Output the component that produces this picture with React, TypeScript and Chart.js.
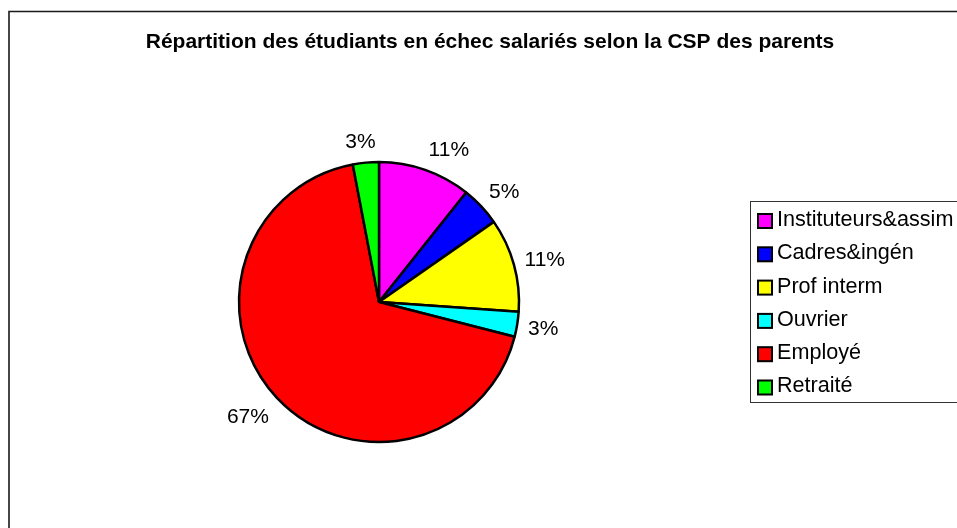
import React, { useEffect, useRef } from "react";
import { Chart, registerables } from "chart.js";

Chart.register(...registerables);

const chartTitle = "Répartition des étudiants en échec salariés selon la CSP des parents";
const categories = ["Instituteurs&assim", "Cadres&ingén", "Prof interm", "Ouvrier", "Employé", "Retraité"];
const shares = [10.7, 4.6, 10.8, 2.9, 68.0, 3.0];
const shareLabels = ["11%", "5%", "11%", "3%", "67%", "3%"];
const sliceColors = ["#FF00FF", "#0000FF", "#FFFF00", "#00FFFF", "#FF0000", "#00FF00"];

const FONT = '"Liberation Sans", Arial, Helvetica, sans-serif';

const decorPlugin = {
  id: "decor",
  beforeDraw(chart: any) {
    const ctx = chart.ctx as CanvasRenderingContext2D;
    const W = chart.width;
    const H = chart.height;
    ctx.save();
    ctx.fillStyle = "#ffffff";
    ctx.fillRect(0, 0, W, H);
    // outer frame (only left and top visible)
    ctx.strokeStyle = "#1a1a1a";
    ctx.lineWidth = 1.6;
    ctx.beginPath();
    ctx.moveTo(9, H + 5);
    ctx.lineTo(9, 11.5);
    ctx.lineTo(W + 5, 11.5);
    ctx.stroke();
    // title
    ctx.fillStyle = "#000";
    ctx.font = `bold 21px ${FONT}`;
    ctx.textAlign = "center";
    ctx.textBaseline = "alphabetic";
    ctx.fillText(chartTitle, 490, 47.5);
    // legend
    ctx.strokeStyle = "#333";
    ctx.lineWidth = 1;
    ctx.strokeRect(750.5, 201.5, 400, 201);
    ctx.font = `21.6px ${FONT}`;
    ctx.textAlign = "left";
    ctx.textBaseline = "middle";
    categories.forEach((name, i) => {
      const y = 220.5 + i * 33.3;
      ctx.fillStyle = sliceColors[i];
      ctx.fillRect(758, y - 6.5, 14, 14);
      ctx.strokeStyle = "#000";
      ctx.lineWidth = 2;
      ctx.strokeRect(758, y - 6.5, 14, 14);
      ctx.fillStyle = "#000";
      ctx.fillText(name, 777, y - 0.5);
    });
    ctx.restore();
  },
  afterDatasetsDraw(chart: any) {
    const ctx = chart.ctx as CanvasRenderingContext2D;
    const meta = chart.getDatasetMeta(0);
    ctx.save();
    ctx.font = `21px ${FONT}`;
    ctx.fillStyle = "#000";
    ctx.textAlign = "center";
    ctx.textBaseline = "middle";
    meta.data.forEach((arc: any, i: number) => {
      const p = arc.getProps(["x", "y", "startAngle", "endAngle", "outerRadius"], true);
      const mid = (p.startAngle + p.endAngle) / 2;
      const ux = Math.cos(mid);
      const uy = Math.sin(mid);
      const dist = p.outerRadius + 11;
      const px = p.x + dist * ux;
      const py = p.y + dist * uy;
      const text = shareLabels[i];
      const w = ctx.measureText(text).width;
      const cx = px + Math.sign(ux) * Math.min(1, 3 * Math.abs(ux)) * (w / 2);
      const cy = py + uy * (uy > 0 ? 16 : 11) + 1;
      ctx.fillText(text, cx, cy);
    });
    ctx.restore();
  },
};

export default function App() {
  const canvasRef = useRef<HTMLCanvasElement | null>(null);

  useEffect(() => {
    if (!canvasRef.current) return;
    const chart = new Chart(canvasRef.current, {
      type: "pie",
      data: {
        labels: categories,
        datasets: [
          {
            data: shares,
            backgroundColor: sliceColors,
            borderColor: "#000",
            borderWidth: 2.5,
          },
        ],
      },
      options: {
        responsive: false,
        animation: false,
        events: [],
        radius: 140,
        layout: { padding: { left: 238, right: 437, top: 161, bottom: 85 } },
        plugins: {
          legend: { display: false },
          title: { display: false },
          tooltip: { enabled: false },
        },
      } as any,
      plugins: [decorPlugin],
    });
    return () => chart.destroy();
  }, []);

  return (
    <div style={{ position: "fixed", left: 0, top: 0, width: 957, height: 528, background: "#fff" }}>
      <canvas ref={canvasRef} width={957} height={528} style={{ display: "block" }} />
    </div>
  );
}
